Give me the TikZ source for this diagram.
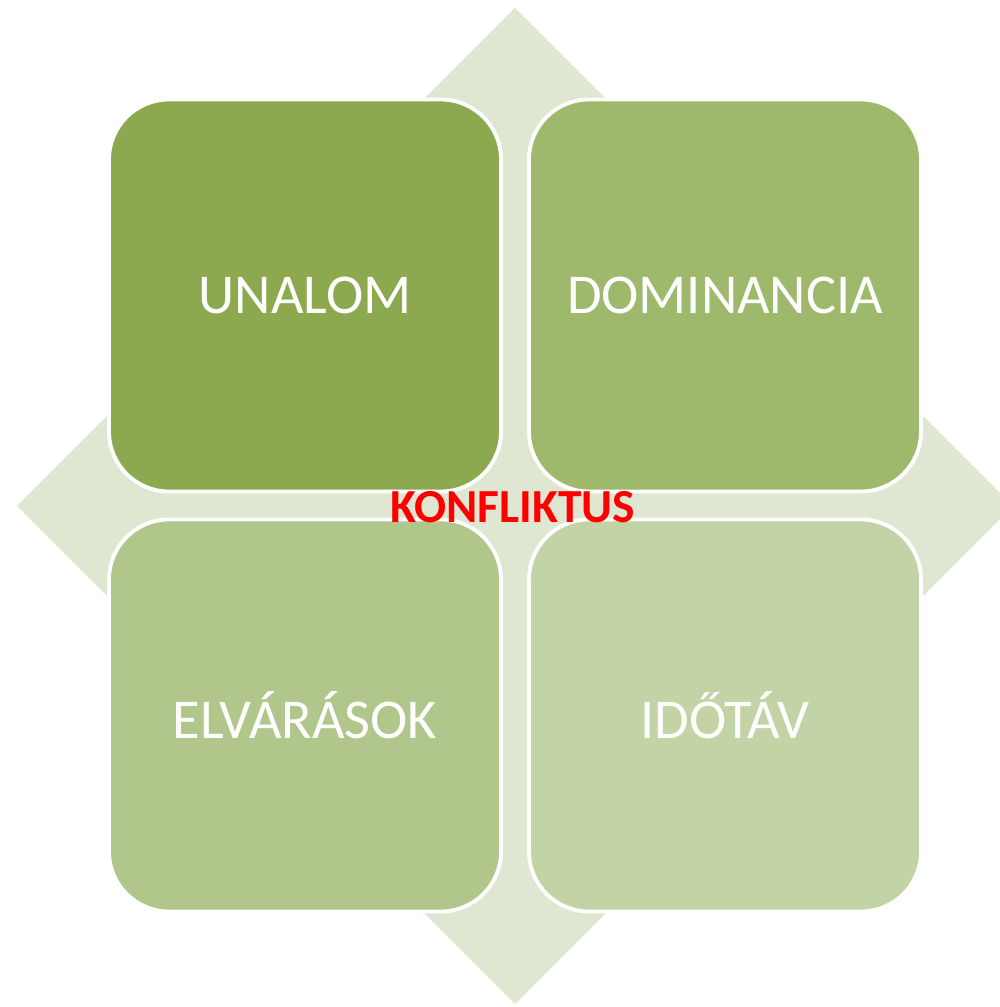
\documentclass[tikz,border=0pt]{standalone}
\usepackage{fontspec}
\setmainfont{Carlito}
\usepackage{xcolor}
\usepackage{tikz}
\usetikzlibrary{positioning,calc}
\definecolor{diamondgreen}{HTML}{DFE7D2}
\definecolor{boxone}{HTML}{8DA950}
\definecolor{boxtwo}{HTML}{9FB96C}
\definecolor{boxthree}{HTML}{B1C68A}
\definecolor{boxfour}{HTML}{C2D3A5}

\begin{document}
\begin{tikzpicture}[
    quadbox/.style={draw=white, line width=1.1pt, rounded corners=0.6cm, minimum width=3.92cm, minimum height=3.92cm, text=white, font=\fontsize{16}{19}\selectfont, inner sep=0pt, outer sep=0pt}
]
    \useasboundingbox (0,0) rectangle (10,10.07);
    % background diamond
    \fill[diamondgreen] (5.15,9.99) -- (10.13,5.01) -- (5.15,0.03) -- (0.17,5.01) -- cycle;

    \node[quadbox, fill=boxone] (unalom) at (3.05,7.115) {UNALOM};
    \node[quadbox, fill=boxtwo, right=0.28cm of unalom] (dominancia) {DOMINANCIA};
    \node[quadbox, fill=boxthree, below=0.28cm of unalom] (elvarasok) {ELVÁRÁSOK};
    \node[quadbox, fill=boxfour, right=0.28cm of elvarasok] (idotav) {IDŐTÁV};

    \node[text=red, font=\fontsize{13.5}{16}\selectfont\bfseries] (konfliktus) at (5.13,5.0) {KONFLIKTUS};
\end{tikzpicture}
\end{document}
